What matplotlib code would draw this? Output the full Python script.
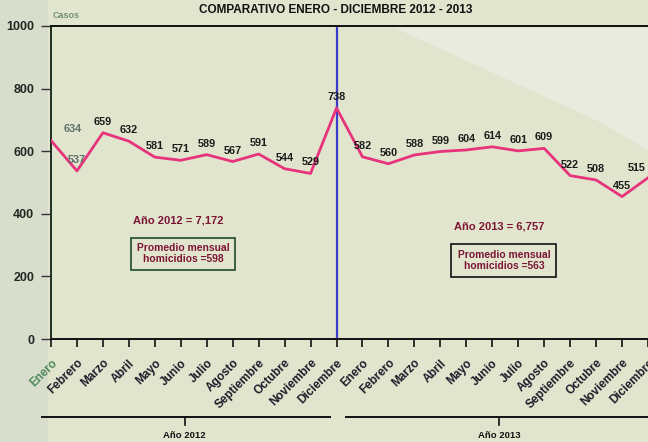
import numpy as np
import matplotlib.pyplot as plt
from matplotlib.patches import Polygon, Rectangle

plt.rcParams['font.family'] = ['Liberation Sans', 'DejaVu Sans']
plt.rcParams['font.weight'] = 'bold'

# data
meses = ['Enero', 'Febrero', 'Marzo', 'Abril', 'Mayo', 'Junio', 'Julio',
         'Agosto', 'Septiembre', 'Octubre', 'Noviembre', 'Diciembre']
casos_2012 = [634, 537, 659, 632, 581, 571, 589, 567, 591, 544, 529, 738]
casos_2013 = [582, 560, 588, 599, 604, 614, 601, 609, 522, 508, 455, 515]
total_2012 = '7,172'
total_2013 = '6,757'
promedio_2012 = 598
promedio_2013 = 563

valores = casos_2012 + casos_2013
etiquetas = meses + meses
x = np.arange(len(valores))

W, H = 648, 442
fig = plt.figure(figsize=(W / 100, H / 100), dpi=100)
fig.patch.set_facecolor('#e2e5cd')

# scan shading: greyer left strip, lighter upper right corner
fig.patches.append(Rectangle((0, 0), 48 / W, 1, transform=fig.transFigure,
                             facecolor='#d9ddcc', edgecolor='none', zorder=-2))
tri = [(395, 28), (648, 28), (648, 150), (600, 122)]
fig.patches.append(Polygon([(px / W, 1 - py / H) for px, py in tri],
                           transform=fig.transFigure, facecolor='#e8ebdd',
                           edgecolor='none', zorder=-1))

ax = fig.add_axes([51 / W, 1 - 339 / H, 597 / W, 313 / H])
ax.set_facecolor('none')
ax.set_xlim(0, 597 / 26)
ax.set_ylim(0, 1000)

ax.plot(x, valores, color='#e6337c', lw=2.0, zorder=3)
ax.axvline(11, color='#3b3bcc', lw=1.6, zorder=2)

# data labels
desplaz = {0: (22, 12), 23: (-11, 10)}
for i, v in enumerate(valores):
    dx, dy = desplaz.get(i, (0, 11))
    col = '#5f7068' if i < 2 else '#1b1b1b'
    ax.annotate(str(v), (x[i], v), xytext=(dx, dy), textcoords='offset pixels',
                ha='center', va='center', fontsize=7.8, color=col,
                fontweight='bold', annotation_clip=False)

# axes styling
ax.spines['right'].set_visible(False)
ax.spines['left'].set_color('#1e2e22')
ax.spines['bottom'].set_color('#111111')
ax.spines['top'].set_color('#111111')
for s in ['left', 'bottom', 'top']:
    ax.spines[s].set_linewidth(1.4)

ax.set_yticks([0, 200, 400, 600, 800, 1000])
ax.tick_params(axis='y', length=7, width=1, color='#333333', labelsize=9,
               labelcolor='#1f2a22', pad=5)
ax.set_xticks(x)
ax.set_xticklabels(etiquetas, rotation=45, ha='right', va='top',
                   rotation_mode='anchor', fontsize=8.5, color='#1d1d2b')
ax.get_xticklabels()[0].set_color('#4f8a5a')
ax.tick_params(axis='x', length=6, width=1.2, color='#111111', pad=7)
for lab in ax.get_yticklabels():
    lab.set_fontweight('bold')

fig.text(66 / W, 1 - 15 / H, 'Casos', ha='center', va='center', fontsize=6.5,
         color='#70907a')
fig.text(336 / W, 1 - 10 / H, 'COMPARATIVO ENERO - DICIEMBRE 2012 - 2013',
         ha='center', va='center', fontsize=8.5, color='#111111')

# totals and monthly averages
granate = '#7b1535'
ax.text(4.9, 378, f'Año 2012 = {total_2012}', ha='center', va='center',
        fontsize=8, color=granate)
ax.text(5.1, 272, f'Promedio mensual\nhomicidios ={promedio_2012}',
        ha='center', va='center', fontsize=7.4, color=granate, linespacing=1.1,
        bbox=dict(boxstyle='square,pad=0.55', fc='none', ec='#1e4a2a', lw=1.2))
ax.text(17.27, 359, f'Año 2013 = {total_2013}', ha='center', va='center',
        fontsize=8, color=granate)
ax.text(17.45, 252, f'Promedio mensual\nhomicidios ={promedio_2013}',
        ha='center', va='center', fontsize=7.4, color=granate, linespacing=1.1,
        bbox=dict(boxstyle='square,pad=0.6', fc='none', ec='#111111', lw=1.2))

# year brackets below the axis
tr = ax.get_xaxis_transform()
y_br = (339 - 417) / 313
y_tk = (339 - 425) / 313
y_lb = (339 - 436) / 313
for x0, x1, xc, txt in [(-0.35, 10.73, 5.15, 'Año 2012'),
                        (11.38, 23.5, 17.27, 'Año 2013')]:
    ax.plot([x0, x1], [y_br, y_br], transform=tr, color='#111111', lw=1.4,
            clip_on=False)
    ax.plot([xc, xc], [y_br, y_tk], transform=tr, color='#111111', lw=1.2,
            clip_on=False)
    ax.text(xc, y_lb, txt, transform=tr, ha='center', va='center',
            fontsize=6.8, color='#111111')

fig.savefig('out.png', dpi=100, facecolor=fig.get_facecolor())
